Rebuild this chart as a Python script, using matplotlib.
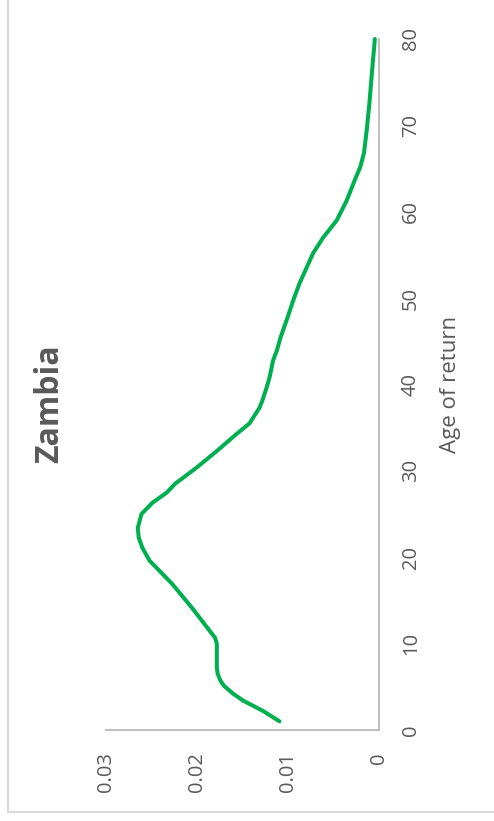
import matplotlib
matplotlib.use('Agg')
from matplotlib import pyplot as plt
from matplotlib.lines import Line2D

# age of return vs density
age = [1.0, 2.2, 3.4, 4.2, 5.1, 5.7, 6.5, 7.2, 8.8, 10.0, 10.7, 11.5, 12.6, 14.1,
       15.5, 16.9, 18.2, 19.6, 21.1, 22.3, 23.4, 25.0, 26.3, 27.5, 28.5, 30.4,
       32.3, 34.3, 35.5, 37.3, 38.1, 39.7, 40.8, 42.8, 43.9, 45.4, 46.3, 47.8,
       49.7, 51.7, 55.2, 57.0, 59.0, 61.3, 63.7, 65.2, 66.8, 69.4, 72.6, 76.4, 80.0]
density = [0.0109, 0.0127, 0.0149, 0.0160, 0.0170, 0.0174, 0.0177, 0.0178, 0.0178,
           0.0178, 0.0180, 0.0186, 0.0194, 0.0205, 0.0216, 0.0227, 0.0239, 0.0252,
           0.0260, 0.0264, 0.0265, 0.0261, 0.0249, 0.0233, 0.0224, 0.0200, 0.0178,
           0.0156, 0.0142, 0.0131, 0.0128, 0.0123, 0.0120, 0.0116, 0.0112, 0.0108,
           0.0105, 0.0100, 0.0094, 0.0087, 0.0072, 0.0061, 0.0046, 0.0035, 0.0026,
           0.0020, 0.0016, 0.0013, 0.0010, 0.0007, 0.0004]
age_ticks = [0, 10, 20, 30, 40, 50, 60, 70, 80]
dens_ticks = [0, 0.01, 0.02, 0.03]
dens_labels = ['0', '0.01', '0.02', '0.03']

txt = '#595959'
axc = '#BFBFBF'
font = ['Open Sans', 'DejaVu Sans']
plt.rcParams['font.family'] = font

W, H = 494, 821
fig = plt.figure(figsize=(W / 100, H / 100), dpi=100)
ax = fig.add_axes([106 / W, 1 - 730 / H, (378.5 - 106) / W, (730 - 39) / H])

ax.plot(density, age, color='#00B050', lw=2.9, solid_capstyle='round',
        solid_joinstyle='round', clip_on=False)

ax.set_xlim(0.03, 0)
ax.set_ylim(0, 80)
for s in ['left', 'top']:
    ax.spines[s].set_visible(False)
for s in ['right', 'bottom']:
    ax.spines[s].set_color(axc)
    ax.spines[s].set_linewidth(1.4)

ax.yaxis.tick_right()
ax.set_yticks(age_ticks)
ax.set_yticklabels([str(a) for a in age_ticks], rotation=90, va='center')
ax.set_xticks(dens_ticks)
ax.set_xticklabels(dens_labels, rotation=90, ha='center')
ax.tick_params(axis='both', length=0, labelsize=14.5, colors=txt)
ax.tick_params(axis='y', pad=16)
ax.tick_params(axis='x', pad=16)

ax.yaxis.set_label_position('right')
ax.set_ylabel('Age of return', fontsize=16, color=txt, rotation=90, labelpad=14)

fig.text(50 / W, 1 - 404 / H, 'Zambia', rotation=90, ha='center', va='center',
         fontsize=23, fontweight='bold', color=txt)

# chart frame (only left and bottom edges show)
fc = '#D9D9D9'
fig.add_artist(Line2D([8 / W, 8 / W], [1 - 812 / H, 1.0], color=fc, lw=1.5))
fig.add_artist(Line2D([8 / W, 1.0], [1 - 812 / H, 1 - 812 / H], color=fc, lw=1.5))

fig.savefig('out.png', dpi=100)
